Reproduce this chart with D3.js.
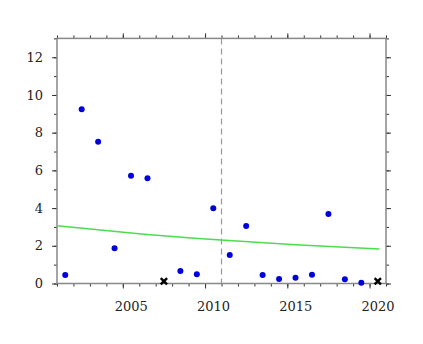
<!DOCTYPE html>
<html>
<head>
<meta charset="utf-8">
<script src="https://cdn.jsdelivr.net/npm/d3@7"></script>
<style>
  body { margin: 0; background: #fff; }
</style>
</head>
<body>
<div class="chart"></div>
<script>
// data
const years = [2001, 2002, 2003, 2004, 2005, 2006, 2007, 2008, 2009, 2010,
               2011, 2012, 2013, 2014, 2015, 2016, 2017, 2018, 2019, 2020];
const values = [0.45, 9.24, 7.52, 1.87, 5.72, 5.58, 0.12, 0.66, 0.49, 3.99,
                1.51, 3.05, 0.45, 0.24, 0.31, 0.47, 3.69, 0.22, 0.04, 0.12];
const crossed = [2007, 2020];           // drawn as black x marks
const trendYears = [2001, 2005.5, 2010.5, 2015.5, 2020.6];
const trendValues = [3.07, 2.68, 2.33, 2.05, 1.83];
const breakYear = 2011;
const xTicks = [2005, 2010, 2015, 2020];
const yTicks = [0, 2, 4, 6, 8, 10, 12];

const W = 423, H = 344;
const pLeft = 57, pRight = 386, pTop = 38.4, pBottom = 283.5;

const svg = d3.select('.chart')
  .append('svg')
  .attr('width', W)
  .attr('height', H);

// x in "tick" coordinates, points sit half a year to the right
const xScale = d3.scaleLinear().domain([2001, 2021]).range([pLeft, pRight]);
const yScale = d3.scaleLinear().domain([0, 13]).range([pBottom, pTop]);

const minorX = d3.range(2001, 2022);
const minorY = d3.range(0, 14);

function styleAxis(g) {
  g.select('.domain').remove();
  g.attr('font-family', null).attr('font-size', null);
  g.selectAll('.tick line').attr('stroke', '#333').attr('stroke-width', 1);
}

// minor ticks
svg.append('g').attr('transform', `translate(0,${pBottom})`)
  .call(d3.axisBottom(xScale).tickValues(minorX).tickSize(3).tickFormat(''))
  .call(styleAxis);
svg.append('g').attr('transform', `translate(0,${pTop})`)
  .call(d3.axisTop(xScale).tickValues(minorX).tickSize(3).tickFormat(''))
  .call(styleAxis);
svg.append('g').attr('transform', `translate(${pLeft},0)`)
  .call(d3.axisLeft(yScale).tickValues(minorY).tickSize(3).tickFormat(''))
  .call(styleAxis);
svg.append('g').attr('transform', `translate(${pRight},0)`)
  .call(d3.axisRight(yScale).tickValues(minorY).tickSize(3).tickFormat(''))
  .call(styleAxis);

// major ticks with labels
const xAxis = svg.append('g').attr('transform', `translate(0,${pBottom})`)
  .call(d3.axisBottom(xScale).tickValues(xTicks).tickSize(5).tickPadding(13).tickFormat(d3.format('d')))
  .call(styleAxis);
xAxis.selectAll('.tick text').attr('dx', 8);
svg.append('g').attr('transform', `translate(0,${pTop})`)
  .call(d3.axisTop(xScale).tickValues(xTicks).tickSize(5).tickFormat(''))
  .call(styleAxis);
svg.append('g').attr('transform', `translate(${pLeft},0)`)
  .call(d3.axisLeft(yScale).tickValues(yTicks).tickSize(5).tickPadding(9))
  .call(styleAxis);
svg.append('g').attr('transform', `translate(${pRight},0)`)
  .call(d3.axisRight(yScale).tickValues(yTicks).tickSize(5).tickFormat(''))
  .call(styleAxis);

svg.selectAll('.tick text')
  .attr('font-family', '"DejaVu Serif", "DejaVu Sans", sans-serif')
  .attr('font-size', 13)
  .attr('fill', '#222');

// frame
svg.append('rect')
  .attr('x', pLeft).attr('y', pTop)
  .attr('width', pRight - pLeft).attr('height', pBottom - pTop)
  .attr('fill', 'none')
  .attr('stroke', '#888')
  .attr('stroke-width', 1.5);

// break line
svg.append('line')
  .attr('x1', xScale(breakYear)).attr('x2', xScale(breakYear))
  .attr('y1', pTop).attr('y2', pBottom)
  .attr('stroke', '#999')
  .attr('stroke-width', 1.2)
  .attr('stroke-dasharray', '6,4');

// trend
const trend = trendYears.map((d, i) => [d, trendValues[i]]);
svg.append('path')
  .datum(trend)
  .attr('fill', 'none')
  .attr('stroke', '#4cdd4c')
  .attr('stroke-width', 1.5)
  .attr('d', d3.line()
    .x(d => xScale(d[0]))
    .y(d => yScale(d[1]))
    .curve(d3.curveMonotoneX));

const data = years.map((d, i) => ({ year: d, value: values[i] }));

// points
svg.selectAll('.dot')
  .data(data.filter(d => !crossed.includes(d.year)))
  .enter()
  .append('circle')
  .attr('class', 'dot')
  .attr('cx', d => xScale(d.year + 0.5))
  .attr('cy', d => yScale(d.value))
  .attr('r', 3)
  .attr('fill', '#0000dd');

// x marks
const cross = d3.symbol().type(d3.symbolX).size(28);
svg.selectAll('.cross')
  .data(data.filter(d => crossed.includes(d.year)))
  .enter()
  .append('path')
  .attr('class', 'cross')
  .attr('transform', d => `translate(${xScale(d.year + 0.5)},${yScale(d.value)})`)
  .attr('d', cross)
  .attr('fill', 'none')
  .attr('stroke', '#000')
  .attr('stroke-width', 2.4);
</script>
</body>
</html>
